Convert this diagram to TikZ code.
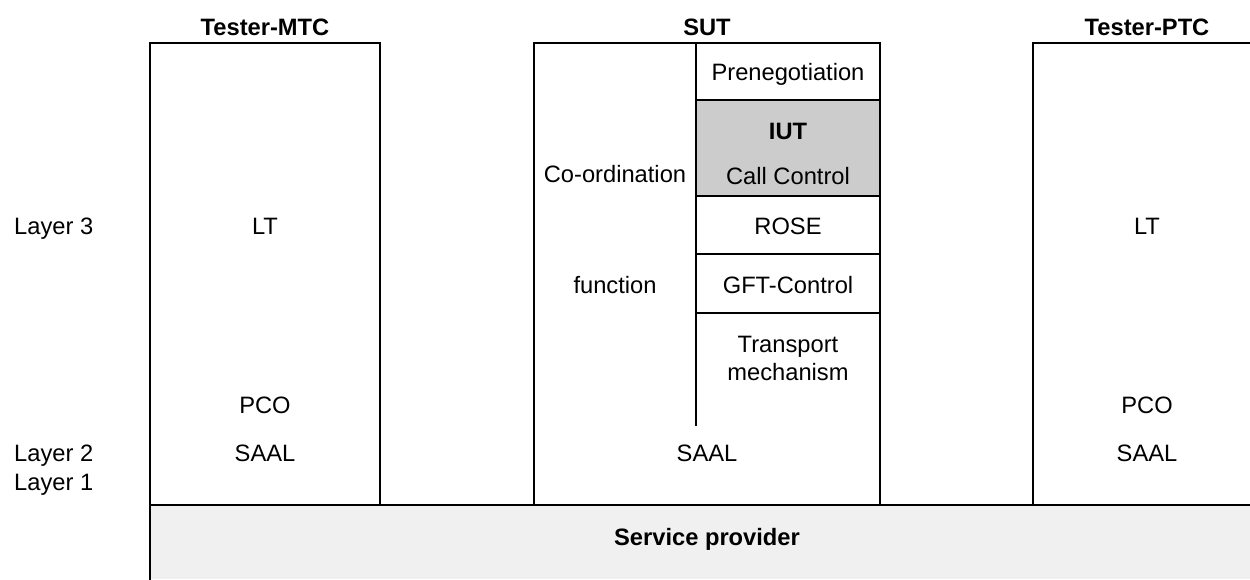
\documentclass[tikz,border=0pt]{standalone}
\usepackage{fontspec}
\setmainfont{Liberation Sans}
\tikzset{
 lbl/.style={inner sep=0pt,font=\fontsize{23.7}{28}\selectfont,align=center,anchor=center},
 head/.style={lbl,font=\fontsize{23.7}{28}\selectfont\bfseries},
 ln/.style={line width=2.2pt,black,line cap=rect}
}
\begin{document}
\begin{tikzpicture}[x=1pt,y=-1pt]
\useasboundingbox (0,0) rectangle (1250,579);
% fills
\fill[white] (0,0) rectangle (1250,579);
\fill[fill=black!6!white] (150,505) rectangle (1250,579);
\fill[fill=black!20!white] (696,100) rectangle (880,196);
% boxes
\draw[ln] (150,579) -- (150,43) -- (380,43) -- (380,505);
\draw[ln] (534,505) -- (534,43) -- (880,43) -- (880,505);
\draw[ln] (1250,43) -- (1033,43) -- (1033,505);
\draw[ln] (150,505) -- (1250,505);
\draw[ln] (696,43) -- (696,425);
\draw[ln] (696,100) -- (880,100);
\draw[ln] (696,196) -- (880,196);
\draw[ln] (696,254) -- (880,254);
\draw[ln] (696,313) -- (880,313);
% headings
\node[head] (mtc) at (265,27) {Tester-MTC};
\node[head] (sut) at (707,27) {SUT};
\node[head] (ptc) at (1147,27) {Tester-PTC};
% layers
\node[lbl,anchor=west] (l3) at (14,229) {Layer 3};
\node[lbl,anchor=west] (l2) at (14,456) {Layer 2};
\node[lbl,anchor=west] (l1) at (14,485) {Layer 1};
% tester MTC
\node[lbl] (lta) at (265,226) {LT};
\node[lbl] (pcoa) at (265,405) {PCO};
\node[lbl] (saala) at (265,453) {SAAL};
% SUT
\node[lbl] (co) at (615,174) {Co-ordination};
\node[lbl] (fn) at (615,285) {function};
\node[lbl] (pre) at (788,74) {Prenegotiation};
\node[head] (iut) at (788,131) {IUT};
\node[lbl] (cc) at (788,176) {Call Control};
\node[lbl] (rose) at (788,226) {ROSE};
\node[lbl] (gft) at (788,285) {GFT-Control};
\node[lbl] (tm) at (788,358) {Transport\\[0pt]mechanism};
\node[lbl] (saals) at (707,453) {SAAL};
% tester PTC
\node[lbl] (ltc) at (1147,226) {LT};
\node[lbl] (pcoc) at (1147,405) {PCO};
\node[lbl] (saalc) at (1147,453) {SAAL};
% provider
\node[head] (sp) at (707,539) {Service provider};
\end{tikzpicture}
\end{document}
